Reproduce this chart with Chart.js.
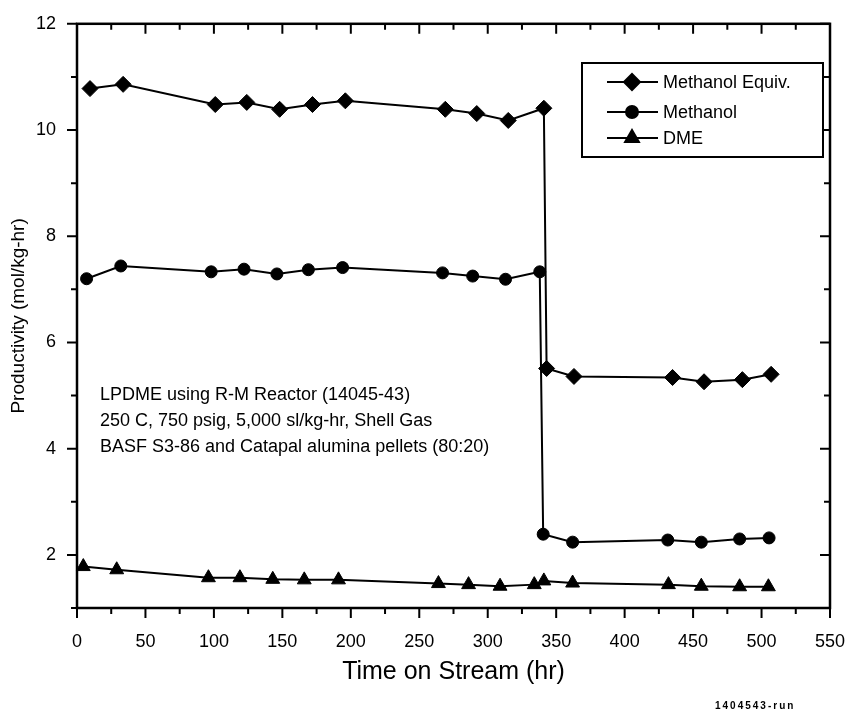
<!DOCTYPE html>
<html><head><meta charset="utf-8">
<script src="https://cdn.jsdelivr.net/npm/chart.js@4.4.1/dist/chart.umd.min.js"></script>
<style>html,body{margin:0;padding:0;background:#fff}#wrap{width:846px;height:713px}</style>
</head><body><div id="wrap"><canvas id="c" width="846" height="713"></canvas></div>
<script>
// ---- data ----
const equivTime   = [9.5, 33.7, 101, 124, 148, 172, 196, 269, 292, 315, 341, 343, 363, 435, 458, 486, 507];
const equivValues = [10.78, 10.86, 10.48, 10.52, 10.39, 10.48, 10.55, 10.39, 10.31, 10.18, 10.41, 5.51, 5.36, 5.34, 5.26, 5.30, 5.40];
const methTime    = [7, 32, 98, 122, 146, 169, 194, 267, 289, 313, 338, 340.5, 362, 431.5, 456, 484, 505.5];
const methValues  = [7.20, 7.44, 7.33, 7.38, 7.29, 7.37, 7.41, 7.31, 7.25, 7.19, 7.33, 2.39, 2.24, 2.28, 2.24, 2.30, 2.32];
const dmeTime     = [4.6, 29, 96, 119, 143, 166, 191, 264, 286, 309, 334, 341, 362, 432, 456, 484, 505];
const dmeValues   = [1.78, 1.72, 1.57, 1.57, 1.54, 1.53, 1.53, 1.46, 1.44, 1.41, 1.44, 1.51, 1.47, 1.44, 1.41, 1.40, 1.40];
const seriesNames = ['Methanol Equiv.', 'Methanol', 'DME'];
const xTickLabels = [0, 50, 100, 150, 200, 250, 300, 350, 400, 450, 500, 550];
const xMinorTicks = [25, 75, 125, 175, 225, 275, 325, 375, 425, 475, 525];
const yTickLabels = [2, 4, 6, 8, 10, 12];
const yMinorTicks = [1, 3, 5, 7, 9, 11];
const noteLines = ['LPDME using R-M Reactor (14045-43)', '250 C, 750 psig, 5,000 sl/kg-hr, Shell Gas', 'BASF S3-86 and Catapal alumina pellets (80:20)'];
const footNote = '1404543-run';

const FONT = "'Liberation Sans', Arial, Helvetica, sans-serif";
const pts = (t, v) => t.map((x, i) => ({x, y: v[i]}));

const common = {borderColor:'#000', backgroundColor:'#000', pointBackgroundColor:'#000', pointBorderColor:'#000',
  borderWidth:2, pointBorderWidth:1, tension:0, clip:false, showLine:true};

const frame = {
  id:'frame',
  afterDatasetsDraw(chart){
    const {ctx, chartArea:a, scales:{x, y}} = chart;
    ctx.save();
    ctx.strokeStyle = '#000';
    ctx.lineWidth = 2;
    ctx.beginPath();
    const xt = (v, L) => { const p = x.getPixelForValue(v); ctx.moveTo(p, a.bottom); ctx.lineTo(p, a.bottom + L); ctx.moveTo(p, a.top); ctx.lineTo(p, a.top + L); };
    const yt = (v, L) => { const p = y.getPixelForValue(v); ctx.moveTo(a.left, p); ctx.lineTo(a.left - L, p); ctx.moveTo(a.right, p); ctx.lineTo(a.right - L, p); };
    xTickLabels.forEach(v => xt(v, 10)); xMinorTicks.forEach(v => xt(v, 6));
    yTickLabels.forEach(v => yt(v, 10)); yMinorTicks.forEach(v => yt(v, 6));
    ctx.stroke();
    ctx.lineWidth = 2.5;
    ctx.strokeRect(a.left, a.top, a.right - a.left, a.bottom - a.top);

    // legend box
    const lx = 582, ly = 63, lw = 241, lh = 94;
    ctx.lineWidth = 2;
    ctx.fillStyle = '#fff';
    ctx.fillRect(lx, ly, lw, lh);
    ctx.strokeRect(lx, ly, lw, lh);
    const rows = [82, 112, 138];
    chart.data.datasets.forEach((ds, i) => {
      const yy = rows[i];
      ctx.beginPath(); ctx.lineWidth = 2; ctx.strokeStyle = '#000';
      ctx.moveTo(607, yy); ctx.lineTo(658, yy); ctx.stroke();
      ctx.fillStyle = '#000';
      Chart.helpers.drawPoint(ctx, {pointStyle: ds.pointStyle, radius: ds.pointRadius, rotation: 0, borderWidth: 1}, 632, yy);
      ctx.fillStyle = '#000';
      ctx.font = '18px ' + FONT;
      ctx.textBaseline = 'middle'; ctx.textAlign = 'left';
      ctx.fillText(ds.label, 663, yy + 1);
    });

    // annotation
    ctx.fillStyle = '#000';
    ctx.font = '18px ' + FONT;
    ctx.textBaseline = 'middle'; ctx.textAlign = 'left';
    [395, 421, 447].forEach((yy, i) => ctx.fillText(noteLines[i], 100, yy));

    // footnote
    ctx.font = 'bold 10px ' + FONT;
    ctx.letterSpacing = '2px';
    ctx.fillText(footNote, 715, 706);
    ctx.restore();
  }
};

new Chart(document.getElementById('c'), {
  type:'scatter',
  data:{datasets:[
    {...common, label:seriesNames[0], data:pts(equivTime, equivValues), pointStyle:'rectRot', pointRadius:8, pointHoverRadius:8},
    {...common, label:seriesNames[1], data:pts(methTime, methValues), pointStyle:'circle', pointRadius:6, pointHoverRadius:6},
    {...common, label:seriesNames[2], data:pts(dmeTime, dmeValues), pointStyle:'triangle', pointRadius:8, pointHoverRadius:8}
  ]},
  options:{
    responsive:false, animation:false, devicePixelRatio:1,
    layout:{padding:{top:23, right:0, bottom:0, left:0}},
    plugins:{legend:{display:false}, tooltip:{enabled:false}},
    events:[],
    scales:{
      x:{type:'linear', min:0, max:550,
        afterBuildTicks:s => { s.ticks = xTickLabels.map(v => ({value:v})); },
        afterFit:s => { s.height = 105; s.paddingRight = 16; s.paddingLeft = 0; },
        grid:{display:false}, border:{display:false},
        ticks:{color:'#000', font:{family:FONT, size:18}, padding:15, maxRotation:0, autoSkip:false},
        title:{display:true, text:'Time on Stream (hr)', color:'#000', font:{family:FONT, size:25}, padding:{top:0, bottom:26}}
      },
      y:{type:'linear', min:1, max:12,
        afterBuildTicks:s => { s.ticks = yTickLabels.map(v => ({value:v})); },
        afterFit:s => { s.width = 77; },
        grid:{display:false}, border:{display:false},
        ticks:{color:'#000', font:{family:FONT, size:18}, padding:13, autoSkip:false},
        title:{display:true, text:'Productivity (mol/kg-hr)', color:'#000', font:{family:FONT, size:19}, padding:{top:7, bottom:0}}
      }
    }
  },
  plugins:[frame]
});
</script></body></html>
